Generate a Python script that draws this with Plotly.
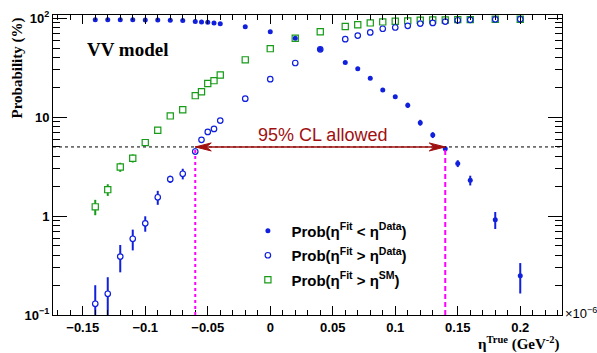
import math
import plotly.graph_objects as go

# eta^True scan points (units of 1e-6 GeV^-2)
eta_true = [-0.14, -0.13, -0.12, -0.11, -0.10, -0.09, -0.08, -0.07, -0.06, -0.055,
            -0.05, -0.045, -0.04, -0.02, 0.0, 0.02, 0.04, 0.06, 0.07, 0.08,
            0.09, 0.10, 0.11, 0.12, 0.13, 0.14, 0.15, 0.16, 0.18, 0.20]

# Prob(eta^Fit < eta^Data) in %
prob_lt_data = [96.6, 96.6, 96.5, 96.4, 96.2, 95.8, 95.4, 95.0, 92.5, 91.9,
                91.2, 89.8, 87.8, 82.0, 73.0, 62.8, 48.5, 35.8, 30.8, 24.7,
                18.8, 16.1, 13.2, 8.8, 6.6, 4.8, 3.4, 2.3, 0.92, 0.25]
err_lt_data = [0.3, 0.3, 0.3, 0.3, 0.3, 0.3, 0.3, 0.3, 0.5, 0.5,
               0.5, 0.5, 0.5, 0.6, 0.7, 0.8, 0.8, 0.8, 0.8, 0.7,
               0.6, 0.6, 0.8, 0.6, 0.45, 0.3, 0.27, 0.26, 0.18, 0.085]

# Prob(eta^Fit > eta^Data) in %
prob_gt_data = [0.13, 0.164, 0.39, 0.59, 0.845, 1.55, 2.36, 2.68, 4.5, 5.9,
                7.1, 7.6, 9.25, 15.4, 24.2, 35.3, 48.5, 61.4, 66.8, 72.0,
                78.3, 80.7, 83.9, 88.4, 89.8, 92.5, 95.5, 96.5, 97.5, 97.8]
err_gt_data = [0.07, 0.077, 0.12, 0.14, 0.15, 0.25, 0.2, 0.33, 0.35, 0.4,
               0.45, 0.45, 0.5, 0.6, 0.7, 0.8, 0.8, 0.8, 0.8, 0.7,
               0.6, 0.6, 0.5, 0.5, 0.4, 0.4, 0.3, 0.3, 0.2, 0.2]

# Prob(eta^Fit > eta^SM) in %
prob_gt_sm = [1.24, 1.85, 3.13, 3.84, 5.53, 7.37, 10.3, 11.9, 16.5, 18.1,
              21.9, 23.4, 26.7, 38.0, 49.3, 62.8, 73.0, 82.6, 85.9, 89.8,
              91.9, 93.4, 94.0, 95.5, 96.2, 96.2, 96.9, 96.9, 97.8, 97.8]
err_gt_sm = [0.22, 0.25, 0.33, 0.36, 0.4, 0.45, 0.5, 0.5, 0.6, 0.6,
             0.7, 0.7, 0.7, 0.8, 0.8, 0.8, 0.7, 0.6, 0.6, 0.5,
             0.4, 0.4, 0.4, 0.3, 0.3, 0.3, 0.3, 0.3, 0.2, 0.2]

# 95% CL interval
cl_level = 5.0
cl_low = -0.06
cl_high = 0.14

y_tick_vals = [0.1, 1, 10, 100]
y_tick_text = ["10<sup>\u22121</sup>", "1", "10", "10<sup>2</sup>"]
# minor log ticks: 2..9 in each decade
y_minor_vals = [m * 10 ** d for d in (-1, 0, 1) for m in range(2, 10)]

BLUE = "#1020dd"
GREEN = "#169c16"
DARKRED = "#a01010"
MAGENTA = "#ff00ff"
SANS = "Liberation Sans"
SERIF = "Liberation Serif"

fig = go.Figure()

fig.add_trace(go.Scatter(
    x=eta_true, y=prob_gt_sm, mode="markers", legendgroup="c", legendrank=3,
    name="Prob(\u03b7<sup>Fit</sup> &gt; \u03b7<sup>SM</sup>)",
    marker=dict(symbol="square", size=6.2, color="white",
                line=dict(color=GREEN, width=1.2)),
    error_y=dict(type="data", array=err_gt_sm, width=0, thickness=2, color=GREEN),
))
fig.add_trace(go.Scatter(
    x=eta_true, y=prob_gt_data, mode="markers", legendgroup="b", legendrank=2,
    name="Prob(\u03b7<sup>Fit</sup> &gt; \u03b7<sup>Data</sup>)",
    marker=dict(symbol="circle", size=5.5, color="white",
                line=dict(color=BLUE, width=1.2)),
    error_y=dict(type="data", array=err_gt_data, width=0, thickness=2, color=BLUE),
))
fig.add_trace(go.Scatter(
    x=eta_true, y=prob_lt_data, mode="markers", legendgroup="a", legendrank=1,
    name="Prob(\u03b7<sup>Fit</sup> &lt; \u03b7<sup>Data</sup>)",
    marker=dict(symbol="circle", size=5, color=BLUE, line=dict(width=0)),
    error_y=dict(type="data", array=err_lt_data, width=0, thickness=2, color=BLUE),
))

# horizontal 95% CL reference line
fig.add_shape(type="line", xref="paper", x0=0, x1=1, yref="y",
              y0=cl_level, y1=cl_level,
              line=dict(color="black", width=1, dash="3px,3px"))
# vertical limits
fig.add_shape(type="line", xref="x", yref="y", x0=cl_low, x1=cl_low,
              y0=0.1, y1=cl_level, line=dict(color=MAGENTA, width=2, dash="dot"))
fig.add_shape(type="line", xref="x", yref="y", x0=cl_high, x1=cl_high,
              y0=0.1, y1=cl_level, line=dict(color=MAGENTA, width=2, dash="5px,3px"))
# double-headed arrow over the allowed region
fig.add_shape(type="line", xref="x", yref="y", x0=cl_low, x1=cl_high,
              y0=cl_level, y1=cl_level, line=dict(color=DARKRED, width=1.6))
head = "M0,0 L-16,4 L-11,0 L-16,-4 Z"
head_left = "M0,0 L16,4 L11,0 L16,-4 Z"
for anchor, path in ((cl_high, head), (cl_low, head_left)):
    fig.add_shape(type="path", xref="x", yref="y",
                  xsizemode="pixel", ysizemode="pixel",
                  xanchor=anchor, yanchor=cl_level, path=path,
                  fillcolor=DARKRED, line=dict(color=DARKRED, width=1))

fig.add_annotation(x=(cl_low + cl_high) / 2, y=math.log10(cl_level),
                   xref="x", yref="y", text="95% CL allowed", showarrow=False,
                   xanchor="center", yanchor="middle", yshift=12, xshift=2,
                   font=dict(family=SANS, size=18, color=DARKRED))

fig.add_annotation(x=0, y=1, xref="paper", yref="paper", text="VV model",
                   showarrow=False, xanchor="left", yanchor="middle",
                   xshift=32, yshift=-34,
                   font=dict(family=SERIF, size=19, color="black", weight="bold"))

fig.add_annotation(x=0, y=1, xref="paper", yref="paper", text="Probability (%)",
                   showarrow=False, textangle=-90, xanchor="center", yanchor="top",
                   xshift=-36, yshift=-1,
                   font=dict(family=SERIF, size=15, color="black", weight="bold"))

fig.add_annotation(x=1, y=0, xref="paper", yref="paper",
                   text="\u03b7<sup>True</sup> (GeV<sup>-2</sup>)",
                   showarrow=False, xanchor="right", yanchor="middle", yshift=-28,
                   font=dict(family=SERIF, size=15, color="black", weight="bold"))

fig.add_annotation(x=1, y=0, xref="paper", yref="paper",
                   text="\u00d710<sup>\u22126</sup>",
                   showarrow=False, xanchor="left", yanchor="middle",
                   xshift=1, yshift=2,
                   font=dict(family=SANS, size=13, color="black"))

fig.update_layout(
    width=597, height=353,
    margin=dict(l=53, r=35, t=9, b=38),
    paper_bgcolor="white", plot_bgcolor="white",
    showlegend=True,
    legend=dict(x=0.376, y=0.335, xanchor="left", yanchor="top",
                traceorder="grouped", tracegroupgap=2, itemwidth=37,
                bgcolor="rgba(0,0,0,0)",
                font=dict(family=SANS, size=15, color="black", weight="bold")),
    xaxis=dict(range=[-0.1738, 0.2334], showgrid=False, zeroline=False,
               showline=True, linecolor="black", linewidth=1, mirror="ticks",
               ticks="inside", ticklen=9, tickcolor="black",
               dtick=0.05, tick0=0,
               minor=dict(ticks="inside", ticklen=5, dtick=0.01, tickcolor="black",
                          showgrid=False),
               tickfont=dict(family=SANS, size=13, color="black", weight="bold")),
    yaxis=dict(type="log", range=[-1.0, 2.033], showgrid=False, zeroline=False,
               showline=True, linecolor="black", linewidth=1, mirror="ticks",
               ticks="inside", ticklen=14, tickcolor="black",
               tickvals=y_tick_vals, ticktext=y_tick_text,
               minor=dict(ticks="inside", ticklen=7, tickcolor="black",
                          tickvals=y_minor_vals, showgrid=False),
               tickfont=dict(family=SANS, size=13, color="black", weight="bold")),
)

fig.write_html("out.html")
